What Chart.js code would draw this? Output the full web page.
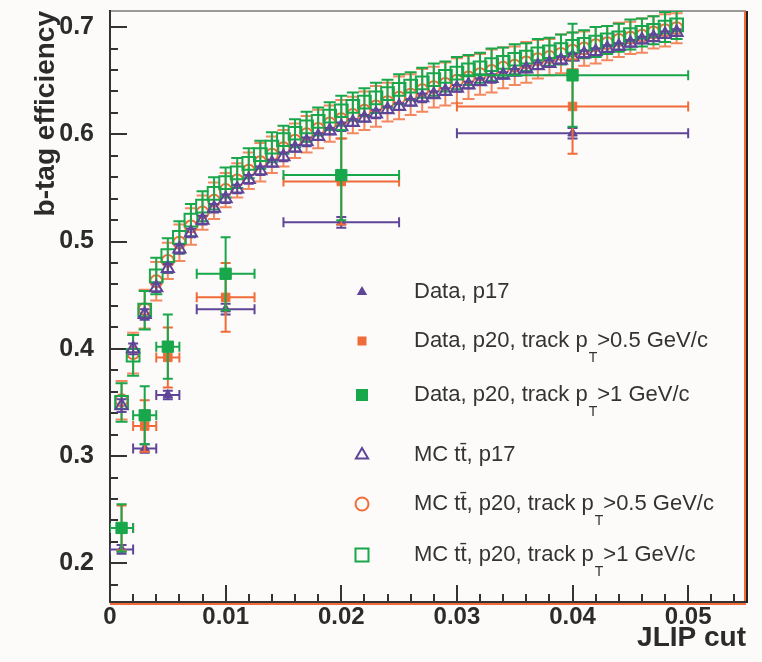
<!DOCTYPE html>
<html>
<head>
<meta charset="utf-8">
<script src="https://cdn.jsdelivr.net/npm/chart.js"></script>
<style>
  html, body { margin: 0; padding: 0; background: #fcfbfa; }
  #wrap { width: 762px; height: 662px; }
</style>
</head>
<body>
<div id="wrap"><canvas id="c" width="762" height="662"></canvas></div>
<script>
// -------- DATA --------
// data points (bins of the JLIP cut)
const dataX    = [0.001, 0.003, 0.005, 0.010, 0.020, 0.040];
const dataXErr = [0.001, 0.001, 0.001, 0.0025, 0.005, 0.010];

const dataP17     = [0.213, 0.307, 0.357, 0.437, 0.518, 0.601];
const dataP17Err  = [0.004, 0.004, 0.004, 0.005, 0.005, 0.005];
const dataP20a    = [0.233, 0.328, 0.392, 0.448, 0.556, 0.626];
const dataP20aErr = [0.021, 0.024, 0.028, 0.032, 0.040, 0.044];
const dataP20b    = [0.233, 0.338, 0.402, 0.470, 0.562, 0.655];
const dataP20bErr = [0.022, 0.027, 0.030, 0.034, 0.042, 0.048];

// MC ttbar curves
const mcX = [0.001, 0.002, 0.003, 0.004, 0.005, 0.006, 0.007, 0.008, 0.009, 0.010,
             0.011, 0.012, 0.013, 0.014, 0.015, 0.016, 0.017, 0.018, 0.019, 0.020,
             0.021, 0.022, 0.023, 0.024, 0.025, 0.026, 0.027, 0.028, 0.029, 0.030,
             0.031, 0.032, 0.033, 0.034, 0.035, 0.036, 0.037, 0.038, 0.039, 0.040,
             0.041, 0.042, 0.043, 0.044, 0.045, 0.046, 0.047, 0.048, 0.049];

const mcP17 = [0.347, 0.400, 0.432, 0.457, 0.475, 0.493, 0.508, 0.520, 0.531, 0.540,
               0.549, 0.558, 0.566, 0.573, 0.579, 0.587, 0.593, 0.598, 0.603, 0.607,
               0.611, 0.615, 0.619, 0.623, 0.626, 0.630, 0.634, 0.637, 0.640, 0.643,
               0.646, 0.649, 0.652, 0.655, 0.658, 0.661, 0.664, 0.666, 0.669, 0.672,
               0.675, 0.677, 0.680, 0.682, 0.685, 0.688, 0.690, 0.693, 0.695];
const mcP17Err = [0.006, 0.005, 0.005, 0.004, 0.004, 0.004, 0.004, 0.004, 0.004, 0.004,
                  0.004, 0.004, 0.004, 0.003, 0.004, 0.003, 0.004, 0.003, 0.003, 0.004,
                  0.003, 0.003, 0.004, 0.003, 0.003, 0.003, 0.004, 0.003, 0.003, 0.003,
                  0.003, 0.003, 0.004, 0.003, 0.003, 0.003, 0.003, 0.003, 0.003, 0.003,
                  0.003, 0.003, 0.003, 0.003, 0.003, 0.003, 0.003, 0.003, 0.003];

const mcP20a = [0.352, 0.396, 0.437, 0.463, 0.482, 0.499, 0.514, 0.527, 0.538, 0.548,
                0.557, 0.566, 0.574, 0.581, 0.587, 0.594, 0.600, 0.605, 0.610, 0.614,
                0.618, 0.622, 0.626, 0.630, 0.634, 0.637, 0.641, 0.644, 0.647, 0.650,
                0.653, 0.656, 0.659, 0.662, 0.664, 0.667, 0.670, 0.672, 0.675, 0.678,
                0.680, 0.683, 0.685, 0.688, 0.690, 0.692, 0.695, 0.697, 0.699];
const mcP20aErr = [0.018, 0.019, 0.018, 0.018, 0.017, 0.017, 0.017, 0.016, 0.017, 0.016,
                   0.016, 0.017, 0.018, 0.017, 0.017, 0.016, 0.017, 0.018, 0.017, 0.018,
                   0.017, 0.018, 0.019, 0.018, 0.020, 0.019, 0.020, 0.019, 0.020, 0.021,
                   0.020, 0.019, 0.020, 0.019, 0.018, 0.019, 0.018, 0.017, 0.018, 0.017,
                   0.016, 0.017, 0.016, 0.016, 0.015, 0.016, 0.015, 0.015, 0.014];

const mcP20b = [0.350, 0.394, 0.436, 0.468, 0.487, 0.504, 0.520, 0.533, 0.545, 0.555,
                0.564, 0.573, 0.581, 0.588, 0.595, 0.601, 0.607, 0.612, 0.617, 0.622,
                0.626, 0.630, 0.634, 0.638, 0.642, 0.645, 0.648, 0.651, 0.654, 0.657,
                0.660, 0.662, 0.665, 0.667, 0.670, 0.672, 0.675, 0.677, 0.679, 0.682,
                0.684, 0.686, 0.688, 0.690, 0.693, 0.695, 0.697, 0.700, 0.702];
const mcP20bErr = [0.018, 0.019, 0.018, 0.017, 0.016, 0.015, 0.015, 0.014, 0.015, 0.014,
                   0.014, 0.014, 0.013, 0.014, 0.013, 0.013, 0.014, 0.013, 0.013, 0.014,
                   0.013, 0.013, 0.014, 0.013, 0.014, 0.013, 0.014, 0.015, 0.014, 0.015,
                   0.014, 0.014, 0.015, 0.014, 0.014, 0.013, 0.014, 0.013, 0.014, 0.013,
                   0.013, 0.014, 0.013, 0.013, 0.014, 0.013, 0.013, 0.014, 0.013];

// axes
const xTicks = [0, 0.01, 0.02, 0.03, 0.04, 0.05];
const xTickLabels = ["0", "0.01", "0.02", "0.03", "0.04", "0.05"];
const yTicks = [0.2, 0.3, 0.4, 0.5, 0.6, 0.7];
const yTickLabels = ["0.2", "0.3", "0.4", "0.5", "0.6", "0.7"];

const legendLabels = [
    "Data, p17",
    "Data, p20, track p_T>0.5 GeV/c",
    "Data, p20, track p_T>1 GeV/c",
    "MC tt\u0304, p17",
    "MC tt\u0304, p20, track p_T>0.5 GeV/c",
    "MC tt\u0304, p20, track p_T>1 GeV/c"
];

// -------- STYLE --------
const PURPLE = "#5f4597";
const ORANGE = "#f06b38";
const GREEN  = "#19a74b";
const INK    = "#2b2b2b";
const FONT   = "'Liberation Sans', Arial, Helvetica, sans-serif";

function pts(xs, ys) {
    return xs.map((x, i) => ({ x: x, y: ys[i] }));
}

// -------- PLUGINS --------
const errorBars = {
    id: "errorBars",
    beforeDatasetDraw(chart, args) {
        const ds = chart.data.datasets[args.index];
        if (!ds.yErr) return;
        const xs = chart.scales.x, ys = chart.scales.y, ctx = chart.ctx;
        const a = chart.chartArea;
        ctx.save();
        ctx.beginPath();
        ctx.rect(a.left, a.top, a.right - a.left, a.bottom - a.top);
        ctx.clip();
        ctx.strokeStyle = ds.errColor;
        ctx.lineWidth = 2;
        const cap = ds.cap;
        ds.data.forEach((p, i) => {
            const px = xs.getPixelForValue(p.x);
            const py = ys.getPixelForValue(p.y);
            const ey = ds.yErr[i] || 0;
            const ex = ds.xErr ? ds.xErr[i] : 0;
            ctx.beginPath();
            if (ey) {
                const y1 = ys.getPixelForValue(p.y + ey);
                const y2 = ys.getPixelForValue(p.y - ey);
                ctx.moveTo(px, y1); ctx.lineTo(px, y2);
                ctx.moveTo(px - cap, y1); ctx.lineTo(px + cap, y1);
                ctx.moveTo(px - cap, y2); ctx.lineTo(px + cap, y2);
            }
            if (ex) {
                const x1 = xs.getPixelForValue(p.x - ex);
                const x2 = xs.getPixelForValue(p.x + ex);
                ctx.moveTo(x1, py); ctx.lineTo(x2, py);
                ctx.moveTo(x1, py - cap); ctx.lineTo(x1, py + cap);
                ctx.moveTo(x2, py - cap); ctx.lineTo(x2, py + cap);
            }
            ctx.stroke();
        });
        ctx.restore();
    }
};

// ROOT style frame with inward ticks
const frame = {
    id: "frame",
    beforeDatasetsDraw(chart) {
        const ctx = chart.ctx, a = chart.chartArea;
        const xs = chart.scales.x, ys = chart.scales.y;
        ctx.save();
        // top and right edges
        ctx.strokeStyle = "#9a9a9a";
        ctx.lineWidth = 2;
        ctx.beginPath();
        ctx.moveTo(a.left, a.top); ctx.lineTo(a.right, a.top);
        ctx.stroke();
        ctx.strokeStyle = ORANGE;
        ctx.beginPath();
        ctx.moveTo(a.right - 1, a.top); ctx.lineTo(a.right - 1, a.bottom);
        ctx.moveTo(a.left, a.bottom + 1); ctx.lineTo(a.right, a.bottom + 1);
        ctx.stroke();
        ctx.strokeStyle = "#222";
        ctx.beginPath();
        ctx.moveTo(a.right + 1, a.top); ctx.lineTo(a.right + 1, a.bottom);
        ctx.stroke();
        // axes
        ctx.strokeStyle = "#333";
        ctx.lineWidth = 2;
        ctx.beginPath();
        ctx.moveTo(a.left, a.top - 1); ctx.lineTo(a.left, a.bottom);
        ctx.moveTo(a.left, a.bottom - 1); ctx.lineTo(a.right, a.bottom - 1);
        xs.ticks.forEach(t => {
            const major = xTicks.some(v => Math.abs(v - t.value) < 1e-9);
            const px = Math.round(xs.getPixelForValue(t.value));
            ctx.moveTo(px, a.bottom); ctx.lineTo(px, a.bottom - (major ? 18 : 9));
        });
        ys.ticks.forEach(t => {
            const major = yTicks.some(v => Math.abs(v - t.value) < 1e-9);
            const py = Math.round(ys.getPixelForValue(t.value));
            ctx.moveTo(a.left, py); ctx.lineTo(a.left + (major ? 17 : 8), py);
        });
        ctx.stroke();
        ctx.restore();
    }
};

function drawMarker(ctx, kind, x, y) {
    ctx.save();
    ctx.lineWidth = 2;
    ctx.strokeStyle = kind.color;
    ctx.fillStyle = kind.color;
    ctx.beginPath();
    if (kind.shape === "triangle") {
        const r = kind.r;
        ctx.moveTo(x, y - r);
        ctx.lineTo(x + r * 0.87, y + r * 0.5);
        ctx.lineTo(x - r * 0.87, y + r * 0.5);
        ctx.closePath();
    } else if (kind.shape === "circle") {
        ctx.arc(x, y, kind.r, 0, Math.PI * 2);
    } else {
        ctx.rect(x - kind.r, y - kind.r, kind.r * 2, kind.r * 2);
    }
    if (kind.fill) ctx.fill(); else ctx.stroke();
    ctx.restore();
}

const legend = {
    id: "rootLegend",
    afterDraw(chart) {
        const ctx = chart.ctx;
        const rowsY = [292, 341, 395, 455, 504, 555];
        const marks = [
            { shape: "triangle", r: 6, fill: true, color: PURPLE },
            { shape: "rect", r: 4.5, fill: true, color: ORANGE },
            { shape: "rect", r: 6, fill: true, color: GREEN },
            { shape: "triangle", r: 7, fill: false, color: PURPLE },
            { shape: "circle", r: 6.5, fill: false, color: ORANGE },
            { shape: "rect", r: 6.5, fill: false, color: GREEN }
        ];
        ctx.save();
        legendLabels.forEach((label, i) => {
            const y = rowsY[i];
            drawMarker(ctx, marks[i], 362, y);
            ctx.fillStyle = "#333";
            ctx.textBaseline = "middle";
            ctx.textAlign = "left";
            ctx.font = "22px " + FONT;
            const parts = label.split("_T");
            let x = 414;
            ctx.fillText(parts[0], x, y);
            if (parts.length > 1) {
                x += ctx.measureText(parts[0]).width;
                ctx.font = "14px " + FONT;
                ctx.fillText("T", x + 1, y + 17);
                x += ctx.measureText("T").width + 1;
                ctx.font = "22px " + FONT;
                ctx.fillText(parts[1], x, y);
            }
        });
        ctx.restore();
    }
};

// -------- CHART --------
function minorTicks(lo, hi, step) {
    const out = [];
    for (let k = Math.ceil(lo / step - 1e-9); k * step <= hi + 1e-9; k++) {
        out.push({ value: Math.round(k * step * 1e6) / 1e6 });
    }
    return out;
}

function labelFor(ticks, labels, value) {
    const i = ticks.findIndex(v => Math.abs(v - value) < 1e-9);
    return i >= 0 ? labels[i] : "";
}

new Chart(document.getElementById("c"), {
    type: "scatter",
    data: {
        datasets: [
            {
                label: "Data, p17",
                data: pts(dataX, dataP17), xErr: dataXErr, yErr: dataP17Err,
                errColor: PURPLE, cap: 5, order: 2,
                pointStyle: "triangle", pointRadius: 5.5, borderWidth: 1,
                borderColor: PURPLE, backgroundColor: PURPLE
            },
            {
                label: "Data, p20, track pT>0.5 GeV/c",
                data: pts(dataX, dataP20a), xErr: dataXErr, yErr: dataP20aErr,
                errColor: ORANGE, cap: 5, order: 1,
                pointStyle: "rect", pointRadius: 6, borderWidth: 1,
                borderColor: ORANGE, backgroundColor: ORANGE
            },
            {
                label: "Data, p20, track pT>1 GeV/c",
                data: pts(dataX, dataP20b), xErr: dataXErr, yErr: dataP20bErr,
                errColor: GREEN, cap: 5, order: 0,
                pointStyle: "rect", pointRadius: 8, borderWidth: 1,
                borderColor: GREEN, backgroundColor: GREEN
            },
            {
                label: "MC ttbar, p17",
                data: pts(mcX, mcP17), yErr: mcP17Err,
                errColor: PURPLE, cap: 5, order: 3,
                pointStyle: "triangle", pointRadius: 7, borderWidth: 2,
                borderColor: PURPLE, backgroundColor: "rgba(0,0,0,0)"
            },
            {
                label: "MC ttbar, p20, track pT>0.5 GeV/c",
                data: pts(mcX, mcP20a), yErr: mcP20aErr,
                errColor: "rgba(240,107,56,0.8)", cap: 6, order: 5,
                pointStyle: "circle", pointRadius: 6, borderWidth: 2,
                borderColor: ORANGE, backgroundColor: "rgba(0,0,0,0)"
            },
            {
                label: "MC ttbar, p20, track pT>1 GeV/c",
                data: pts(mcX, mcP20b), yErr: mcP20bErr,
                errColor: GREEN, cap: 6, order: 4,
                pointStyle: "rect", pointRadius: 9, borderWidth: 2,
                borderColor: GREEN, backgroundColor: "rgba(0,0,0,0)"
            }
        ]
    },
    options: {
        responsive: false,
        animation: false,
        devicePixelRatio: 1,
        layout: { padding: { left: 0, right: 16, top: 9, bottom: 0 } },
        plugins: {
            legend: { display: false },
            tooltip: { enabled: false }
        },
        scales: {
            x: {
                type: "linear",
                min: 0,
                max: 0.055,
                afterBuildTicks: s => { s.ticks = minorTicks(0, 0.055, 0.002); },
                afterFit: s => { s.height = 59; s.paddingLeft = 0; s.paddingRight = 0; },
                grid: { display: false },
                border: { display: false },
                ticks: {
                    autoSkip: false,
                    maxRotation: 0,
                    padding: -8,
                    color: INK,
                    font: { family: FONT, size: 24, weight: "bold" },
                    callback: v => labelFor(xTicks, xTickLabels, v)
                },
                title: {
                    display: true,
                    text: "JLIP cut",
                    align: "end",
                    color: INK,
                    padding: { top: 0, bottom: 7 },
                    font: { family: FONT, size: 28, weight: "bold" }
                }
            },
            y: {
                type: "linear",
                min: 0.163,
                max: 0.715,
                afterBuildTicks: s => { s.ticks = minorTicks(0.163, 0.715, 0.02); },
                afterFit: s => { s.width = 110; s.paddingTop = 0; s.paddingBottom = 0; },
                grid: { display: false },
                border: { display: false },
                ticks: {
                    autoSkip: false,
                    padding: 8,
                    color: INK,
                    font: { family: FONT, size: 25, weight: "bold" },
                    callback: v => labelFor(yTicks, yTickLabels, v)
                },
                title: {
                    display: true,
                    text: "b-tag efficiency",
                    align: "end",
                    color: INK,
                    padding: { top: 29, bottom: 0 },
                    font: { family: FONT, size: 28, weight: "bold" }
                }
            }
        }
    },
    plugins: [frame, errorBars, legend]
});
</script>
</body>
</html>
